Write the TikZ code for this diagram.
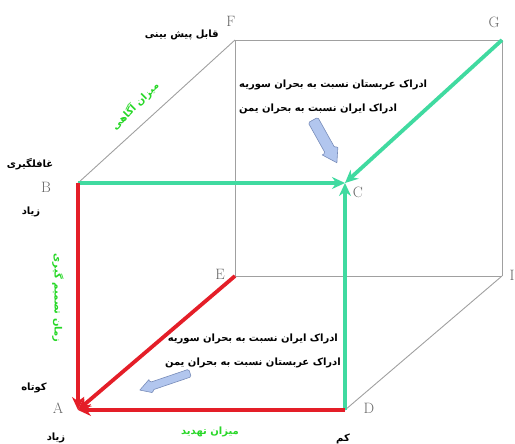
\documentclass[tikz,border=0pt]{standalone}
\usepackage{fontspec}
\usetikzlibrary{arrows.meta}
\TeXXeTstate=1
\newfontfamily\fa[Script=Arabic]{DejaVu Sans}
\definecolor{mint}{RGB}{64,218,160}
\definecolor{redl}{RGB}{228,30,40}
\definecolor{txtgreen}{RGB}{40,215,40}
\definecolor{edgegray}{RGB}{160,160,160}
\definecolor{lblue}{RGB}{178,198,238}
\definecolor{bluebd}{RGB}{120,140,185}
\tikzset{
 edge/.style={draw=edgegray,line width=0.9pt},
 greenarrow/.style={draw=mint,line width=3.8pt,-{Stealth[length=13pt,width=12pt]}},
 redarrow/.style={draw=redl,line width=3.8pt,-{Stealth[length=13pt,width=12pt]}},
 letter/.style={text=black!60,font=\fontsize{15}{15}\selectfont,inner sep=0},
 fatext/.style={font=\fa\bfseries\fontsize{10}{24}\selectfont,inner sep=0},
 axistext/.style={fatext,text=txtgreen},
 blockarrow/.style={draw=bluebd,fill=lblue,line width=0.6pt,line join=round,rounded corners=1.5pt}
}
\begin{document}
\begin{tikzpicture}[x=1pt,y=-1pt]
\useasboundingbox (0,0) rectangle (515,444);
\coordinate (A) at (78,410);
\coordinate (B) at (78,183);
\coordinate (C) at (345,183);
\coordinate (D) at (345,410);
\coordinate (E) at (235,276);
\coordinate (F) at (235,40);
\coordinate (G) at (502,40);
\coordinate (I) at (502,276);
% gray cube edges
\draw[edge] (B) -- (F);
\draw[edge] (F) -- (G);
\draw[edge] (G) -- (I);
\draw[edge] (I) -- (E);
\draw[edge] (E) -- (F);
\draw[edge] (D) -- (I);
% coloured arrows
\draw[greenarrow] (B) -- (C);
\draw[greenarrow] (G) -- (C);
\draw[greenarrow] (D) -- (C);
\draw[redarrow] (B) -- (A);
\draw[redarrow] (E) -- (A);
\draw[redarrow] (D) -- (A);
% vertex letters
\node[letter] (lA) at (58,408) {A};
\node[letter] (lB) at (46,187) {B};
\node[letter] (lC) at (358,192) {C};
\node[letter] (lD) at (369,408) {D};
\node[letter] (lE) at (220,274) {E};
\node[letter] (lF) at (231,21) {F};
\node[letter] (lG) at (494,22) {G};
\node[letter] (lI) at (512,275) {I};
% block arrows
\begin{scope}[shift={(313,120)},rotate=-60.8]
\draw[blockarrow] (0,-5.5) -- (35,-5.5) -- (35,-9) [sharp corners]-- (49,0) -- (35,9) [rounded corners=1.5pt]-- (35,5.5) -- (0,5.5) -- cycle;
\end{scope}
\begin{scope}[shift={(190,373)},rotate=-161.2]
\draw[blockarrow] (0,-4) -- (41,-4) -- (41,-7) [sharp corners]-- (53,0) -- (41,7) [rounded corners=1.5pt]-- (41,4) -- (0,4) -- cycle;
\end{scope}
% Persian texts
\node[fatext,align=left,anchor=west] (t1) at (239,97) {\beginR ادراک عربستان نسبت به بحران سوریه\endR\\ \beginR ادراک ایران نسبت به بحران یمن\endR};
\node[fatext,align=center,anchor=east] (t2) at (341,351) {\beginR ادراک ایران نسبت به بحران سوریه\endR\\ \beginR ادراک عربستان نسبت به بحران یمن\endR};
\node[fatext,anchor=east] (pf) at (219,35) {\beginR قابل پیش بینی\endR};
\node[fatext] (sb) at (30,164) {\beginR غافلگیری\endR};
\node[fatext] (zb) at (31,212) {\beginR زیاد\endR};
\node[fatext] (ka) at (34,388) {\beginR کوتاه\endR};
\node[fatext] (za) at (56,438) {\beginR زیاد\endR};
\node[fatext] (kd) at (343,439) {\beginR کم\endR};
\node[axistext,rotate=45] (aw) at (135,106) {\beginR میزان آگاهی\endR};
\node[axistext,rotate=-90] (dt) at (58,298) {\beginR زمان تصمیم گیری\endR};
\node[axistext] (th) at (210,432) {\beginR میزان تهدید\endR};
\end{tikzpicture}
\end{document}
